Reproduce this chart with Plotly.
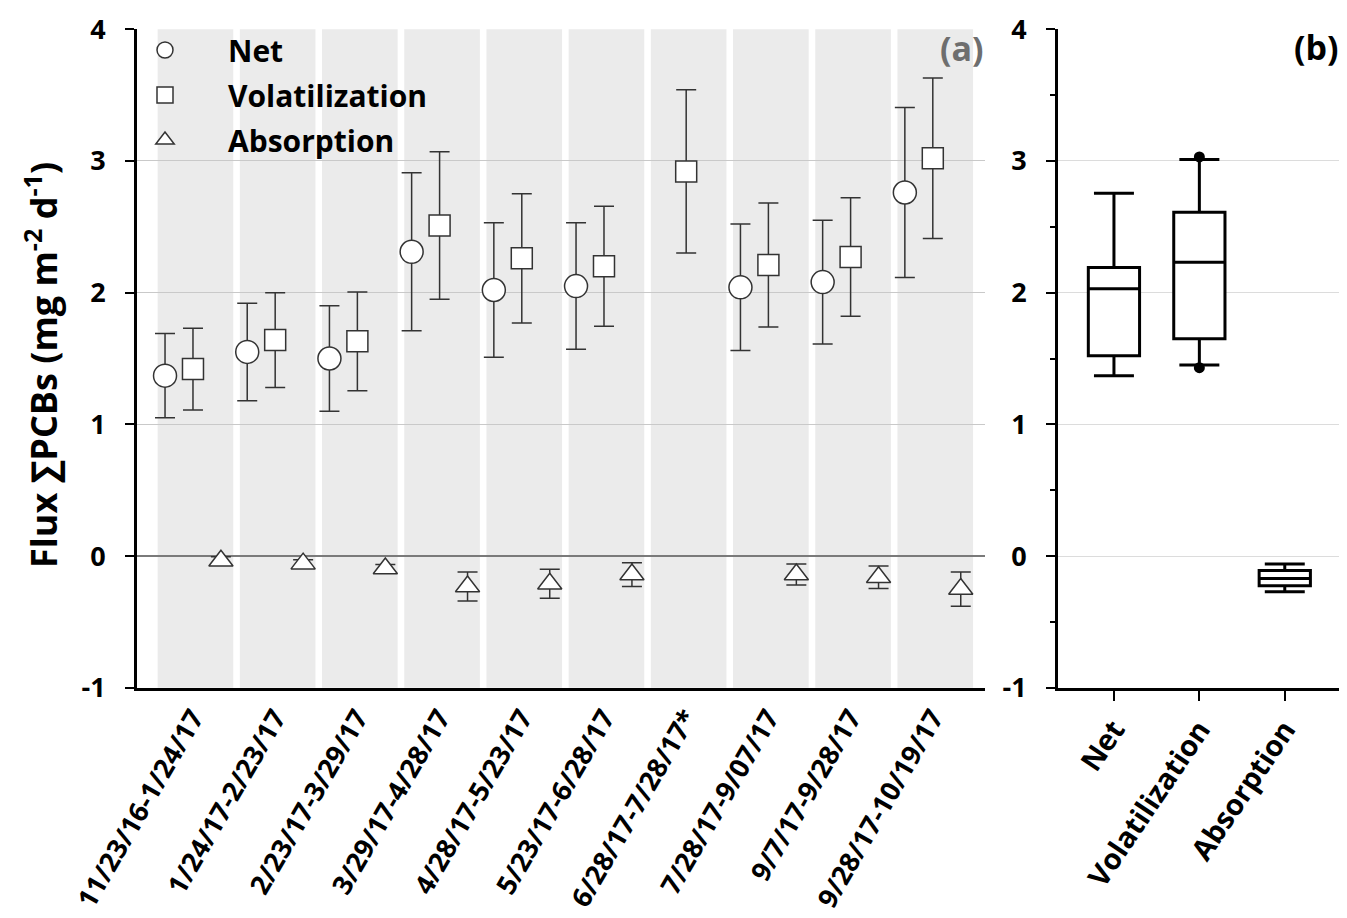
import plotly.graph_objects as go

# ---------------- data ----------------
periods = ["11/23/16-1/24/17", "1/24/17-2/23/17", "2/23/17-3/29/17", "3/29/17-4/28/17",
           "4/28/17-5/23/17", "5/23/17-6/28/17", "6/28/17-7/28/17*", "7/28/17-9/07/17",
           "9/7/17-9/28/17", "9/28/17-10/19/17"]
net = [1.37, 1.55, 1.50, 2.31, 2.02, 2.05, None, 2.04, 2.08, 2.76]
net_err = [0.32, 0.37, 0.40, 0.60, 0.51, 0.48, None, 0.48, 0.47, 0.645]
vol = [1.42, 1.64, 1.63, 2.51, 2.26, 2.20, 2.92, 2.21, 2.27, 3.02]
vol_err = [0.31, 0.36, 0.375, 0.56, 0.49, 0.455, 0.62, 0.47, 0.45, 0.61]
absorp = [-0.035, -0.057, -0.094, -0.23, -0.21, -0.14, None, -0.14, -0.16, -0.25]
absorp_err = [0.03, 0.03, 0.03, 0.11, 0.11, 0.09, None, 0.08, 0.085, 0.13]

box_cats = ["Net", "Volatilization", "Absorption"]
box_low = [1.37, 1.45, -0.27]
box_q1 = [1.52, 1.65, -0.225]
box_med = [2.03, 2.23, -0.17]
box_q3 = [2.19, 2.61, -0.11]
box_high = [2.755, 3.01, -0.06]
vol_extremes = [1.43, 3.03]

y_tickvals = [-1, 0, 1, 2, 3, 4]
y_ticktext = ["-1", "0", "1", "2", "3", "4"]

# ---------------- geometry helpers ----------------
W, H = 1347, 918
OFF = 8  # browser body margin
def px(x):
    return (x - OFF) / W
def py(y):
    return 1 - (y - OFF) / H

idx = list(range(len(periods)))
offset = 0.34
x_net = [i - offset for i in idx]
x_vol = [i for i in idx]
x_abs = [i + offset for i in idx]

mk_line = dict(color="#333333", width=1.5)
err_style = dict(type="data", visible=True, color="#333333", thickness=1.5, width=10)

fig = go.Figure()

fig.add_trace(go.Scatter(
    x=x_net, y=net, mode="markers", name="Net", legendgroup="n",
    marker=dict(symbol="circle", size=23, color="white", line=mk_line),
    error_y=dict(array=net_err, **err_style), xaxis="x", yaxis="y"))
fig.add_trace(go.Scatter(
    x=x_vol, y=vol, mode="markers", name="Volatilization", legendgroup="v",
    marker=dict(symbol="square", size=21, color="white", line=mk_line),
    error_y=dict(array=vol_err, **err_style), xaxis="x", yaxis="y"))
fig.add_trace(go.Scatter(
    x=x_abs, y=absorp, mode="markers", name="Absorption", legendgroup="a",
    marker=dict(symbol="triangle-up", size=21, color="white", line=mk_line),
    error_y=dict(array=absorp_err, **err_style), xaxis="x", yaxis="y"))

# panel (b) boxes
fig.add_trace(go.Box(
    x=box_cats, q1=box_q1, median=box_med, q3=box_q3,
    lowerfence=box_low, upperfence=box_high,
    line=dict(color="black", width=3), fillcolor="white",
    whiskerwidth=0.78, width=0.6, boxpoints=False,
    showlegend=False, xaxis="x2", yaxis="y2", hoverinfo="skip"))
fig.add_trace(go.Scatter(
    x=[box_cats[1]] * len(vol_extremes), y=vol_extremes, mode="markers",
    marker=dict(symbol="circle", size=11, color="black"),
    showlegend=False, xaxis="x2", yaxis="y2"))

# gray category bands in panel (a)
for i in idx:
    fig.add_shape(type="rect", xref="x", yref="y", x0=i - 0.43, x1=i + 0.49, y0=-1, y1=4,
                  fillcolor="#ebebeb", line=dict(width=0), layer="below")

tickfont = dict(family="Open Sans", size=27, color="black", weight="bold")
yrange = [-1.001, 4.001]

fig.update_layout(
    width=W, height=H,
    margin=dict(l=0, r=0, t=0, b=0),
    paper_bgcolor="white", plot_bgcolor="white",
    font=dict(family="Open Sans", size=24, color="black", weight="bold"),
    showlegend=True,
    legend=dict(x=px(102), y=py(24), xanchor="left", yanchor="top",
                bgcolor="rgba(0,0,0,0)", font=dict(size=30, weight="bold"),
                itemwidth=116, tracegroupgap=3, traceorder="grouped"),
    xaxis=dict(domain=[px(137), px(985)], range=[-0.681, 9.635],
               tickmode="array", tickvals=idx, ticktext=periods, tickangle=-60,
               tickfont=dict(family="Open Sans", size=27, color="black", weight="bold"),
               showline=True, linecolor="black", linewidth=3, ticks="",
               ticklabeloverflow="allow",
               showgrid=False, zeroline=False, automargin=False, anchor="y"),
    yaxis=dict(domain=[py(688), py(29)], range=yrange,
               tickmode="array", tickvals=y_tickvals, ticktext=y_ticktext,
               showline=True, linecolor="black", linewidth=3,
               ticks="outside", ticklen=9, tickwidth=1.5, tickcolor="black",
               tickfont=tickfont, ticklabelstandoff=14, ticklabeloverflow="allow",
               showgrid=True, gridcolor="#c9c9c9", gridwidth=1,
               zeroline=True, zerolinecolor="#7a7a7a", zerolinewidth=2,
               automargin=False, anchor="x"),
    xaxis2=dict(domain=[px(1058), px(1342)], range=[-0.655, 2.67],
                type="category", tickangle=-56,
                tickfont=dict(family="Open Sans", size=29, color="black", weight="bold"),
                showline=True, linecolor="black", linewidth=3,
                ticks="outside", ticklen=10, tickwidth=1.5, tickcolor="black",
                ticklabeloverflow="allow",
                showgrid=False, zeroline=False, automargin=False, anchor="y2"),
    yaxis2=dict(domain=[py(688), py(29)], range=yrange,
                tickmode="array", tickvals=y_tickvals, ticktext=y_ticktext,
                showline=True, linecolor="black", linewidth=3,
                ticks="outside", ticklen=9, tickwidth=1.5, tickcolor="black",
                tickfont=tickfont, ticklabelstandoff=14, ticklabeloverflow="allow",
                minor=dict(dtick=0.5, tick0=0, ticks="outside", ticklen=5,
                           tickwidth=1.5, tickcolor="black", showgrid=False),
                showgrid=True, gridcolor="#dcdcdc", gridwidth=1,
                zeroline=False, automargin=False, anchor="x2"),
)

fig.add_annotation(text="Flux \u2211PCBs (mg m<sup>-2</sup> d<sup>-1</sup>)",
                   xref="paper", yref="paper", x=px(42), y=py(365),
                   xanchor="center", yanchor="middle",
                   textangle=-90, showarrow=False,
                   font=dict(family="Open Sans", size=36, color="black", weight="bold"))
fig.add_annotation(text="(a)", xref="paper", yref="paper", x=px(962), y=py(48),
                   xanchor="center", yanchor="middle", showarrow=False,
                   font=dict(family="Open Sans", size=34, color="#6e6e6e", weight="bold"))
fig.add_annotation(text="(b)", xref="paper", yref="paper", x=px(1316), y=py(47),
                   xanchor="center", yanchor="middle", showarrow=False,
                   font=dict(family="Open Sans", size=34, color="black", weight="bold"))

fig.write_html("out.html")
